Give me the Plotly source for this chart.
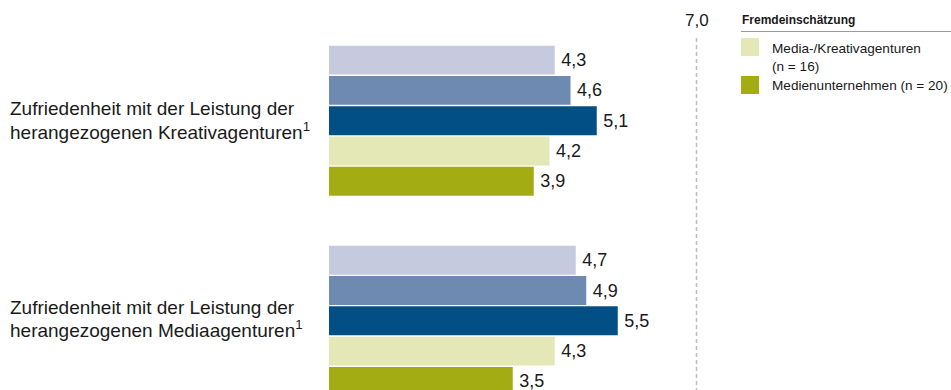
import plotly.graph_objects as go

# Kategorien (Zeilen) und zweizeilige Beschriftungen
categories = ["Kreativagenturen", "Mediaagenturen"]
category_lines = [
    ["Zufriedenheit mit der Leistung der", "herangezogenen Kreativagenturen<sup>1</sup>"],
    ["Zufriedenheit mit der Leistung der", "herangezogenen Mediaagenturen<sup>1</sup>"],
]

# Mittelwerte je Befragtengruppe (Skala bis 7,0)
series_names = ["Gruppe A", "Gruppe B", "Gruppe C",
                "Media-/Kreativagenturen (n = 16)", "Medienunternehmen (n = 20)"]
series_values = [
    [4.3, 4.7],
    [4.6, 4.9],
    [5.1, 5.5],
    [4.2, 4.3],
    [3.9, 3.5],
]
series_colors = ["#C5CADF", "#6F8AB1", "#024F85", "#E4E8B6", "#A3AC13"]

scale_max = 7.0
scale_label = "7,0"

legend_title = "Fremdeinschätzung"
legend_labels = ["Media-/Kreativagenturen<br>(n = 16)", "Medienunternehmen (n = 20)"]
legend_colors = series_colors[3:]

W, H = 951, 390
FONT = "Liberation Sans, Arial, sans-serif"
TXT = "#1a1a1a"


def fmt(v):
    # Dezimalkomma, mit schmalem Abstand zum Balkenende
    return "\u2009" + f"{v:.1f}".replace(".", ",")


def px(x):
    return x / W


def py(y):
    return 1 - y / H


fig = go.Figure()
for name, vals, col in zip(series_names, series_values, series_colors):
    fig.add_trace(go.Bar(
        y=categories, x=vals, orientation="h", name=name,
        marker=dict(color=col, line=dict(width=0)),
        text=[fmt(v) for v in vals], textposition="outside",
        textfont=dict(family=FONT, size=18, color=TXT),
        constraintext="none", cliponaxis=False, showlegend=False,
        hoverinfo="skip",
    ))

# Skalenwert 7,0 mit gestrichelter Linie
fig.add_shape(type="line", xref="x", yref="paper", x0=scale_max, x1=scale_max,
              y0=py(38), y1=0, line=dict(color="#BDBDBD", width=1.5, dash="4px,3px"))
fig.add_annotation(xref="x", yref="paper", x=scale_max, y=py(20), text=scale_label,
                   showarrow=False, xanchor="center", yanchor="middle",
                   font=dict(family=FONT, size=17, color=TXT))

# Zeilenbeschriftungen links (je Zeile eine Annotation für engeren Zeilenabstand)
line_shifts = [[12.5, -10.1], [13.3, -8.4]]
for cat, lines, shifts in zip(categories, category_lines, line_shifts):
    for line, shift in zip(lines, shifts):
        fig.add_annotation(xref="paper", yref="y", x=px(8), y=cat, yshift=shift, text=line,
                           showarrow=False, xanchor="left", yanchor="middle", align="left",
                           font=dict(family=FONT, size=19, color=TXT))

# Legende
fig.add_annotation(xref="paper", yref="paper", x=px(740), y=py(20), text=f"<b>{legend_title}</b>",
                   showarrow=False, xanchor="left", yanchor="middle",
                   font=dict(family=FONT, size=12, color=TXT))
fig.add_shape(type="line", xref="paper", yref="paper", x0=px(741), x1=px(951),
              y0=py(31.5), y1=py(31.5), line=dict(color="#9A9A9A", width=1))
for i, (lab, col) in enumerate(zip(legend_labels, legend_colors)):
    top = 38 + i * 38
    fig.add_shape(type="rect", xref="paper", yref="paper", x0=px(741), x1=px(759),
                  y0=py(top), y1=py(top + 18), fillcolor=col, line=dict(width=0))
    fig.add_annotation(xref="paper", yref="paper", x=px(770), y=py(top + 0.5), text=lab,
                       showarrow=False, xanchor="left", yanchor="top", align="left",
                       font=dict(family=FONT, size=13.6, color=TXT))

unit = 52.5  # Pixel je Skaleneinheit
x0_px = 329
cat_step = 200.1
cat0_px = 120.7
fig.update_layout(
    width=W, height=H, margin=dict(l=0, r=0, t=0, b=0),
    paper_bgcolor="white", plot_bgcolor="white",
    barmode="group", bargap=0.243, bargroupgap=0.045,
    xaxis=dict(range=[-x0_px / unit, (W - x0_px) / unit], visible=False),
    yaxis=dict(range=[(H - cat0_px) / cat_step, -cat0_px / cat_step], visible=False),
)

fig.write_html("out.html")
